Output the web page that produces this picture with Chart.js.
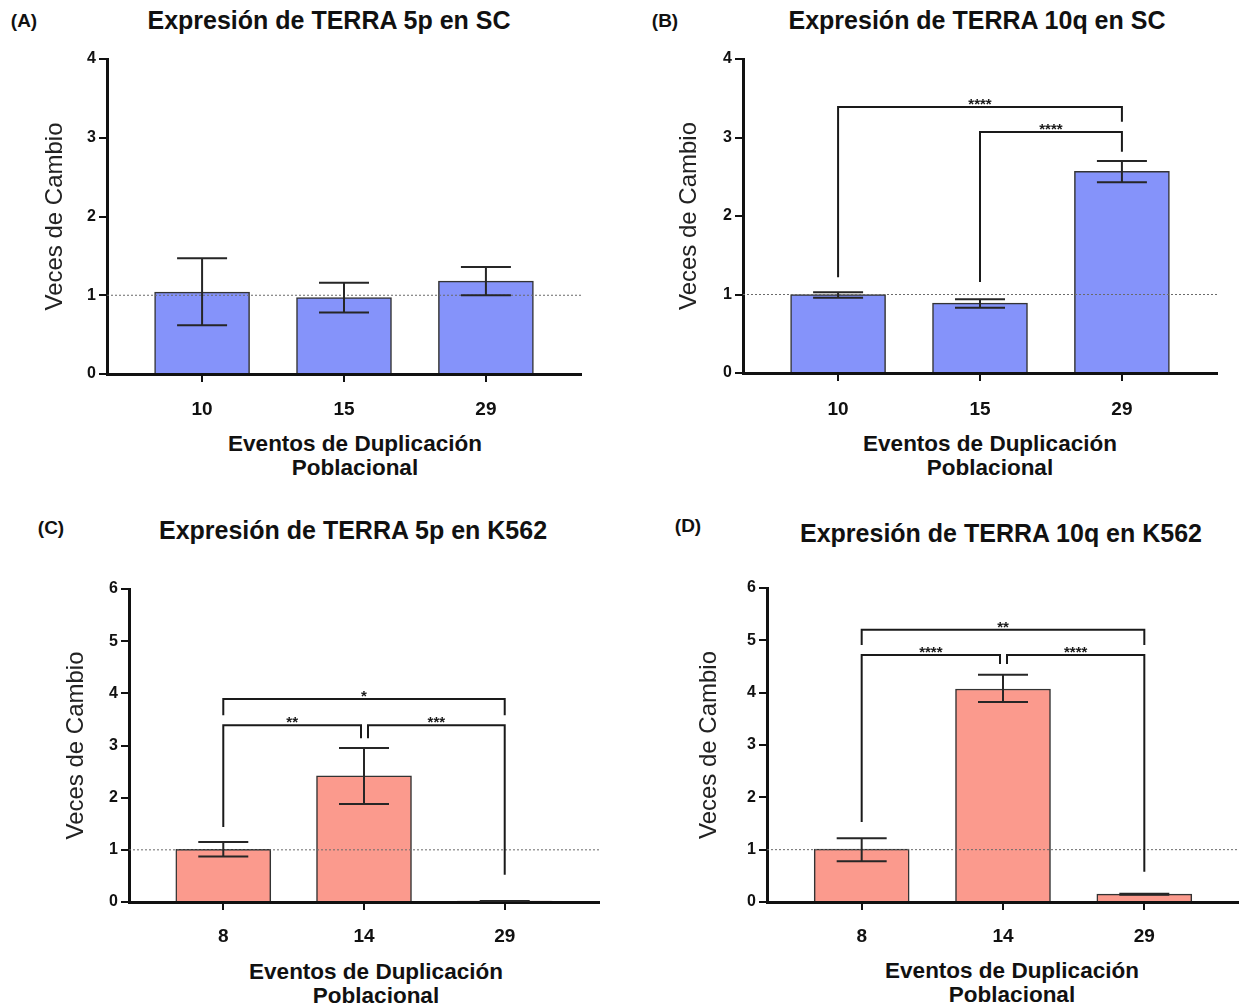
<!DOCTYPE html>
<html>
<head>
<meta charset="utf-8">
<script src="https://cdn.jsdelivr.net/npm/chart.js@4.4.1/dist/chart.umd.min.js"></script>
<style>
  body { margin: 0; background: #fff; }
  #wrap { position: relative; width: 1239px; height: 1008px; overflow: hidden; font-family: "Liberation Sans", Arial, sans-serif; }
  canvas { position: absolute; }
  .txt { position: absolute; font-weight: bold; color: #111; white-space: nowrap; line-height: 1; transform: translate(-50%, -50%); }
  .lbl { font-size: 19px; }
  .ttl { font-size: 25px; }
  .xt { font-size: 22.5px; }
</style>
</head>
<body>
<div id="wrap"></div>
<script>
// ---- data ----
const panelLabels = ['(A)', '(B)', '(C)', '(D)'];
const panelTitles = [
  'Expresión de TERRA 5p en SC',
  'Expresión de TERRA 10q en SC',
  'Expresión de TERRA 5p en K562',
  'Expresión de TERRA 10q en K562'
];
const yTitle = 'Veces de Cambio';
const xTitle = ['Eventos de Duplicación', 'Poblacional'];

const catsSC = ['10', '15', '29'];
const catsK562 = ['8', '14', '29'];
const yMaxSC = 4;
const yMaxK562 = 6;
const refLine = 1; // dotted line at fold change 1

const meanA = [1.04, 0.97, 1.18];
const errHiA = [1.47, 1.16, 1.36];
const errLoA = [0.62, 0.78, 1.00];

const meanB = [1.00, 0.89, 2.57];
const errHiB = [1.03, 0.94, 2.70];
const errLoB = [0.96, 0.83, 2.43];

const meanC = [1.01, 2.42, 0.02];
const errHiC = [1.15, 2.95, 0.02];
const errLoC = [0.87, 1.88, 0.02];

const meanD = [1.01, 4.07, 0.15];
const errHiD = [1.22, 4.34, 0.16];
const errLoD = [0.78, 3.82, 0.14];

// significance brackets: [from, to, bracket y, left leg end, right leg end, label]
const sigA = [];
const sigB = [
  [0, 2, 3.39, 1.22, 3.20, '****'],
  [1, 2, 3.07, 1.16, 2.82, '****']
];
const sigC = [
  [0, 2, 3.89, 3.58, 3.58, '*'],
  [0, 1, 3.39, 1.44, 3.14, '**'],
  [1, 2, 3.39, 3.14, 0.52, '***']
];
const sigD = [
  [0, 2, 5.20, 4.91, 4.91, '**'],
  [0, 1, 4.72, 1.53, 4.55, '****'],
  [1, 2, 4.72, 4.55, 0.58, '****']
];

const blueFill = '#8593fa';
const redFill = '#fb9a8d';
const ink = '#1a1a1a';
const fontFam = '"Liberation Sans", Arial, sans-serif';

// page placement of each panel (page pixels)
const panels = [
  { x: 0,   y: 0,   w: 620, h: 500, left: 107, top: 59,  bottom: 374, right: 581,  yTitleX: 55,  titleX: 329,  titleY: 20,  labelX: 24,  labelY: 20,  xTick: 410, xTitleX: 355,  xTitleY: 444,
    cats: catsSC, mean: meanA, hi: errHiA, lo: errLoA, ymax: yMaxSC, fill: blueFill, sig: sigA },
  { x: 620, y: 0,   w: 619, h: 500, left: 743, top: 59,  bottom: 373, right: 1217, yTitleX: 689, titleX: 977,  titleY: 20,  labelX: 665, labelY: 20,  xTick: 410, xTitleX: 990,  xTitleY: 444,
    cats: catsSC, mean: meanB, hi: errHiB, lo: errLoB, ymax: yMaxSC, fill: blueFill, sig: sigB },
  { x: 0,   y: 500, w: 620, h: 508, left: 129, top: 589, bottom: 902, right: 599,  yTitleX: 76,  titleX: 353,  titleY: 530, labelX: 51,  labelY: 527, xTick: 937, xTitleX: 376,  xTitleY: 972,
    cats: catsK562, mean: meanC, hi: errHiC, lo: errLoC, ymax: yMaxK562, fill: redFill, sig: sigC },
  { x: 620, y: 500, w: 619, h: 508, left: 767, top: 588, bottom: 902, right: 1239, yTitleX: 709, titleX: 1001, titleY: 533, labelX: 688, labelY: 525, xTick: 937, xTitleX: 1012, xTitleY: 971,
    cats: catsK562, mean: meanD, hi: errHiD, lo: errLoD, ymax: yMaxK562, fill: redFill, sig: sigD }
];

const wrap = document.getElementById('wrap');

function addText(cls, text, x, y) {
  const d = document.createElement('div');
  d.className = 'txt ' + cls;
  d.textContent = text;
  d.style.left = x + 'px';
  d.style.top = y + 'px';
  wrap.appendChild(d);
}

// draws the dotted reference line, error bars and significance brackets
const overlayPlugin = {
  id: 'overlay',
  afterDatasetsDraw(chart, args, opts) {
    const ctx = chart.ctx;
    const xs = chart.scales.x;
    const ys = chart.scales.y;
    const area = chart.chartArea;
    ctx.save();

    // dotted line at y = 1
    const yRef = ys.getPixelForValue(refLine);
    ctx.strokeStyle = '#6a6a6a';
    ctx.lineWidth = 1;
    ctx.setLineDash([2, 2]);
    ctx.beginPath();
    ctx.moveTo(area.left, yRef);
    ctx.lineTo(area.right, yRef);
    ctx.stroke();
    ctx.setLineDash([]);

    // error bars
    ctx.strokeStyle = '#262626';
    ctx.lineWidth = 2;
    opts.hi.forEach((h, i) => {
      const px = xs.getPixelForValue(i);
      const yh = ys.getPixelForValue(h);
      const yl = ys.getPixelForValue(opts.lo[i]);
      ctx.beginPath();
      ctx.moveTo(px, yh); ctx.lineTo(px, yl);
      ctx.moveTo(px - 25, yh); ctx.lineTo(px + 25, yh);
      ctx.moveTo(px - 25, yl); ctx.lineTo(px + 25, yl);
      ctx.stroke();
    });

    // brackets
    ctx.strokeStyle = ink;
    ctx.fillStyle = ink;
    ctx.font = 'bold 15px ' + fontFam;
    ctx.textAlign = 'center';
    ctx.textBaseline = 'alphabetic';
    opts.sig.forEach((s) => {
      const [a, b, yv, l0, l1, text] = s;
      // leave a small gap where two brackets meet at the same height
      const meetsRight = opts.sig.some((o) => o !== s && o[2] === yv && o[0] === b);
      const meetsLeft = opts.sig.some((o) => o !== s && o[2] === yv && o[1] === a);
      const x0 = xs.getPixelForValue(a) + (meetsLeft ? 4 : 0);
      const x1 = xs.getPixelForValue(b) - (meetsRight ? 3 : 0);
      const yb = ys.getPixelForValue(yv);
      ctx.beginPath();
      ctx.moveTo(x0, ys.getPixelForValue(l0));
      ctx.lineTo(x0, yb);
      ctx.lineTo(x1, yb);
      ctx.lineTo(x1, ys.getPixelForValue(l1));
      ctx.stroke();
      ctx.fillText(text, (x0 + x1) / 2, yb + 2);
    });
    ctx.restore();
  }
};

panels.forEach((p, k) => {
  addText('lbl', panelLabels[k], p.labelX, p.labelY);
  addText('ttl', panelTitles[k], p.titleX, p.titleY);
  addText('xt', xTitle[0], p.xTitleX, p.xTitleY);
  addText('xt', xTitle[1], p.xTitleX, p.xTitleY + 24);

  const canvas = document.createElement('canvas');
  canvas.width = p.w;
  canvas.height = p.h;
  canvas.style.left = p.x + 'px';
  canvas.style.top = p.y + 'px';
  wrap.appendChild(canvas);

  const L = p.left - p.x, T = p.top - p.y, B = p.bottom - p.y, R = p.right - p.x;
  const padLeft = 20;
  const yW = L - padLeft;
  const tickLen = 8;
  const xH = 60;
  const xTickPad = (p.xTick - p.y) - B - tickLen - 19 * 1.2 / 2;
  const yTitlePad = (p.yTitleX - p.x) - padLeft - 24 * 1.2 / 2;

  new Chart(canvas, {
    type: 'bar',
    data: {
      datasets: [{
        data: p.mean.map((v, i) => ({ x: i, y: v })),
        backgroundColor: p.fill,
        borderColor: '#333',
        borderWidth: 1.5,
        barThickness: 95
      }]
    },
    options: {
      responsive: false,
      animation: false,
      devicePixelRatio: 1,
      layout: { padding: { left: padLeft, top: T, right: Math.max(p.w - R, 0), bottom: p.h - B - xH } },
      plugins: {
        legend: { display: false },
        tooltip: { enabled: false },
        overlay: { hi: p.hi, lo: p.lo, sig: p.sig }
      },
      scales: {
        x: {
          type: 'linear',
          offset: false,
          min: -0.67,
          max: 2.67,
          afterBuildTicks: (s) => { s.ticks = p.cats.map((c, i) => ({ value: i })); },
          afterFit: (s) => { s.height = xH; },
          ticks: {
            callback: (v) => p.cats[v],
            font: { family: fontFam, size: 19, weight: 'bold' },
            color: '#111',
            padding: xTickPad,
            maxRotation: 0,
            autoSkip: false
          },
          grid: { offset: false, drawOnChartArea: false, drawTicks: true, tickLength: tickLen, color: '#111', lineWidth: 2 },
          border: { display: true, color: '#111', width: 3 }
        },
        y: {
          min: 0,
          max: p.ymax,
          afterFit: (s) => { s.width = yW; },
          ticks: {
            stepSize: 1,
            font: { family: fontFam, size: 16, weight: 'bold' },
            color: '#111',
            padding: 3
          },
          grid: { drawOnChartArea: false, drawTicks: true, tickLength: tickLen, color: '#111', lineWidth: 2 },
          border: { display: true, color: '#111', width: 3 },
          title: {
            display: true,
            text: yTitle,
            font: { family: fontFam, size: 24 },
            color: '#222',
            padding: { top: yTitlePad, bottom: 0 }
          }
        }
      }
    },
    plugins: [overlayPlugin]
  });
});
</script>
</body>
</html>
